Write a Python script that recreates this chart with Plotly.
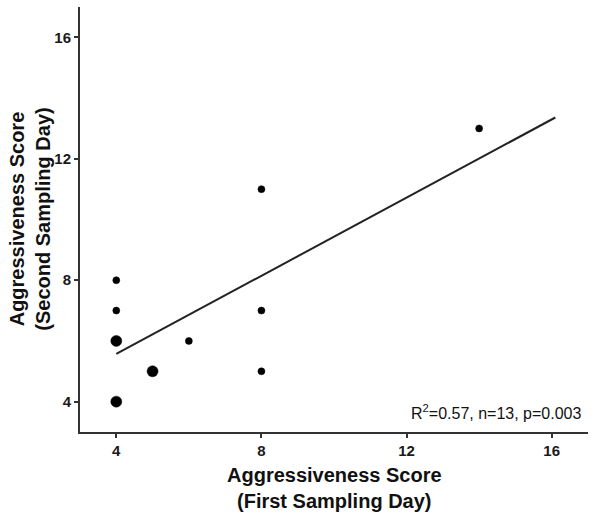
import plotly.graph_objects as go

# Data
x_vals = [4, 4, 4, 4, 5, 6, 8, 8, 8, 14]
y_vals = [8, 7, 6, 4, 5, 6, 11, 7, 5, 13]
counts = [1, 1, 2, 2, 2, 1, 1, 1, 1, 1]

fit_x = [4, 16.1]
fit_y = [5.57, 13.36]

tick_vals = [4, 8, 12, 16]
x_title = "Aggressiveness Score<br>(First Sampling Day)"
y_title = "Aggressiveness Score<br>(Second Sampling Day)"
annot_text = "R<sup>2</sup>=0.57, n=13, p=0.003"

sizes = [7 if c == 1 else 11 for c in counts]

fig = go.Figure()
fig.add_trace(go.Scatter(
    x=fit_x, y=fit_y, mode="lines",
    line=dict(color="#222222", width=2), hoverinfo="skip", showlegend=False,
))
fig.add_trace(go.Scatter(
    x=x_vals, y=y_vals, mode="markers",
    marker=dict(color="#000000", size=sizes, opacity=1, line=dict(width=0.5, color="#000000")),
    showlegend=False,
))

axis_common = dict(
    showgrid=False, zeroline=False, showline=True, linecolor="#333333", linewidth=2,
    ticks="outside", ticklen=4, tickwidth=2, tickcolor="#333333",
    tickvals=tick_vals, automargin=False,
    tickfont=dict(family="Liberation Sans", size=15, color="#1a1a1a", weight="bold"),
)

title_font = dict(family="Liberation Sans", size=20, color="#111111", weight="bold")

fig.update_layout(
    width=600, height=517,
    margin=dict(l=80, r=12, t=7, b=85, autoexpand=False),
    plot_bgcolor="white", paper_bgcolor="white",
    font=dict(family="Liberation Sans", color="#111111"),
    xaxis=dict(range=[3, 17], **axis_common),
    yaxis=dict(range=[3, 17], **axis_common),
    annotations=[
        dict(text=annot_text, xref="paper", yref="paper", x=0.99, y=0.047,
             xanchor="right", yanchor="middle", showarrow=False,
             font=dict(family="Liberation Sans", size=16, color="#111111")),
        dict(text=x_title, xref="paper", yref="paper", x=0.5, y=-0.132,
             xanchor="center", yanchor="middle", showarrow=False, font=title_font),
        dict(text=y_title, xref="paper", yref="paper", x=-0.1, y=0.5, textangle=-90,
             xanchor="center", yanchor="middle", showarrow=False, font=title_font),
    ],
)

fig.write_html("out.html", config={"displayModeBar": False},
               post_script="document.body.style.margin='0';document.body.style.overflow='hidden';")
